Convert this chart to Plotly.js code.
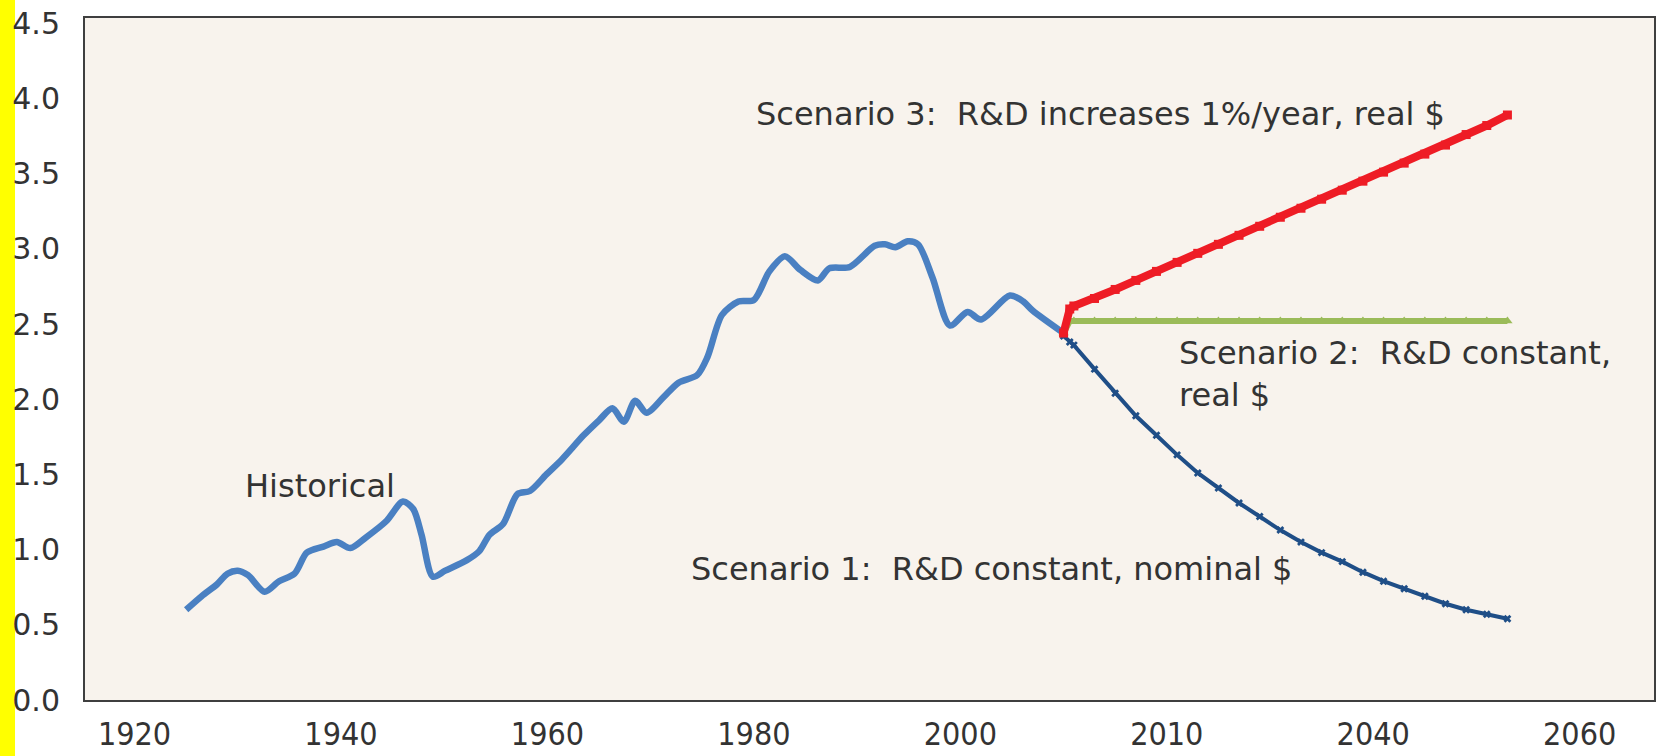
<!DOCTYPE html>
<html>
<head>
<meta charset="utf-8">
<script src="https://cdn.plot.ly/plotly-3.0.1.min.js"></script>
<style>
html,body{margin:0;padding:0;background:#ffffff;}
#chart{width:1663px;height:756px;}
</style>
</head>
<body>
<div id="chart"></div>
<script>
// Historical series
const histYears = [1925,1926.5,1928,1929,1930,1931,1932.6,1934,1935.5,1936.7,1938.3,1939.6,1940.9,1942.4,1944.4,1946,1947,1947.8,1948.9,1950.1,1952.2,1953.4,1954.4,1955.7,1957.1,1958.3,1959.9,1961.4,1963.5,1965,1966.3,1967.4,1968.5,1969.6,1971.2,1972.7,1974.5,1975.5,1976.9,1978.5,1980,1981.5,1983,1984.5,1986.2,1987.3,1989.3,1991.7,1992.7,1993.7,1994.9,1995.9,1997.3,1999,2000.7,2002,2004.8,2006.1,2007,2010];
const histValues = [0.60,0.69,0.77,0.84,0.86,0.83,0.72,0.79,0.84,0.98,1.02,1.05,1.01,1.08,1.19,1.32,1.27,1.10,0.82,0.86,0.93,0.99,1.10,1.17,1.37,1.39,1.50,1.60,1.76,1.86,1.94,1.85,1.99,1.91,2.01,2.11,2.16,2.28,2.56,2.65,2.66,2.85,2.95,2.86,2.79,2.87,2.88,3.02,3.03,3.01,3.05,3.03,2.81,2.49,2.58,2.53,2.69,2.65,2.59,2.44];

// Projection years (shared)
const projYears = [2010,2010.6,2011,2013,2015,2017,2019,2021,2023,2025,2027,2029,2031,2033,2035,2037,2039,2041,2043,2045,2047,2049,2051,2053];
// Scenario 3: R&D increases 1%/year, real $
const scen3 = [2.44,2.60,2.62,2.67,2.73,2.79,2.85,2.91,2.97,3.03,3.09,3.15,3.21,3.27,3.33,3.39,3.45,3.51,3.57,3.63,3.69,3.76,3.82,3.89];
// Scenario 2: R&D constant, real $
const scen2 = [2.44,2.52,2.52,2.52,2.52,2.52,2.52,2.52,2.52,2.52,2.52,2.52,2.52,2.52,2.52,2.52,2.52,2.52,2.52,2.52,2.52,2.52,2.52,2.52];
// Scenario 1: R&D constant, nominal $
const scen1 = [2.42,2.38,2.36,2.20,2.04,1.89,1.76,1.63,1.51,1.41,1.31,1.22,1.13,1.05,0.98,0.92,0.85,0.79,0.74,0.69,0.64,0.60,0.57,0.54];

// Axis ticks
const xTickVals = [1920,1940,1960,1980,2000,2020,2040,2060];
const xTickText = ['1920','1940','1960','1980','2000','2010','2040','2060'];
const yTickVals = [0,0.5,1,1.5,2,2.5,3,3.5,4,4.5];
const yTickText = ['0.0','0.5','1.0','1.5','2.0','2.5','3.0','3.5','4.0','4.5'];

// Labels
const labels = [
  {text:'Historical', x:1930.5, y:1.42},
  {text:'Scenario 3:  R&D increases 1%/year, real $', x:1980.0, y:3.90},
  {text:'Scenario 2:  R&D constant,<br>real $', x:2021.0, y:2.17},
  {text:'Scenario 1:  R&D constant, nominal $', x:1973.7, y:0.87}
];

const textFont = {family:'DejaVu Sans, sans-serif', size:32, color:'#333333'};

const traces = [
  {x:histYears, y:histValues, mode:'lines', line:{color:'#4a80c2', width:6.5, shape:'spline', smoothing:0.8}, hoverinfo:'skip'},
  {x:projYears, y:scen2, mode:'lines+markers', line:{color:'#9bbb59', width:6}, marker:{symbol:'triangle-up', size:9, color:'#9bbb59'}, hoverinfo:'skip'},
  {x:projYears, y:scen1, mode:'lines+markers', line:{color:'#1f4e87', width:4}, marker:{symbol:'x', size:7, color:'#1f4e87'}, hoverinfo:'skip'},
  {x:projYears, y:scen3, mode:'lines+markers', line:{color:'#ee1c25', width:8}, marker:{symbol:'square', size:9, color:'#ee1c25'}, hoverinfo:'skip'}
];

const layout = {
  width:1663, height:756,
  margin:{l:85, r:9, t:18, b:56},
  paper_bgcolor:'#ffffff',
  plot_bgcolor:'#f8f3ed',
  showlegend:false,
  xaxis:{
    range:[1915.2, 2067.2], tickvals:xTickVals, ticktext:xTickText,
    showgrid:false, zeroline:false, showline:true, mirror:true,
    linecolor:'#3f3f3f', linewidth:2, ticks:'', ticklabelstandoff:5,
    tickfont:{family:'Liberation Sans Narrow, DejaVu Sans Condensed, sans-serif', size:32, color:'#333333'}
  },
  yaxis:{
    range:[0, 4.535], tickvals:yTickVals, ticktext:yTickText,
    showgrid:false, zeroline:false, showline:true, mirror:true,
    linecolor:'#3f3f3f', linewidth:2, ticks:'', ticklabelstandoff:17,
    tickfont:{family:'DejaVu Sans, sans-serif', size:30, color:'#333333'}
  },
  shapes:[
    {type:'rect', xref:'paper', yref:'paper', x0:-0.0542, x1:-0.0446, y0:-0.2, y1:1.1, fillcolor:'#ffff00', line:{width:0}, layer:'below'}
  ],
  annotations: labels.map(l => ({
    text:l.text, x:l.x, y:l.y, xref:'x', yref:'y', showarrow:false,
    xanchor:'left', yanchor:'middle', align:'left', font:textFont
  }))
};

Plotly.newPlot('chart', traces, layout, {staticPlot:true, displayModeBar:false});
</script>
</body>
</html>
